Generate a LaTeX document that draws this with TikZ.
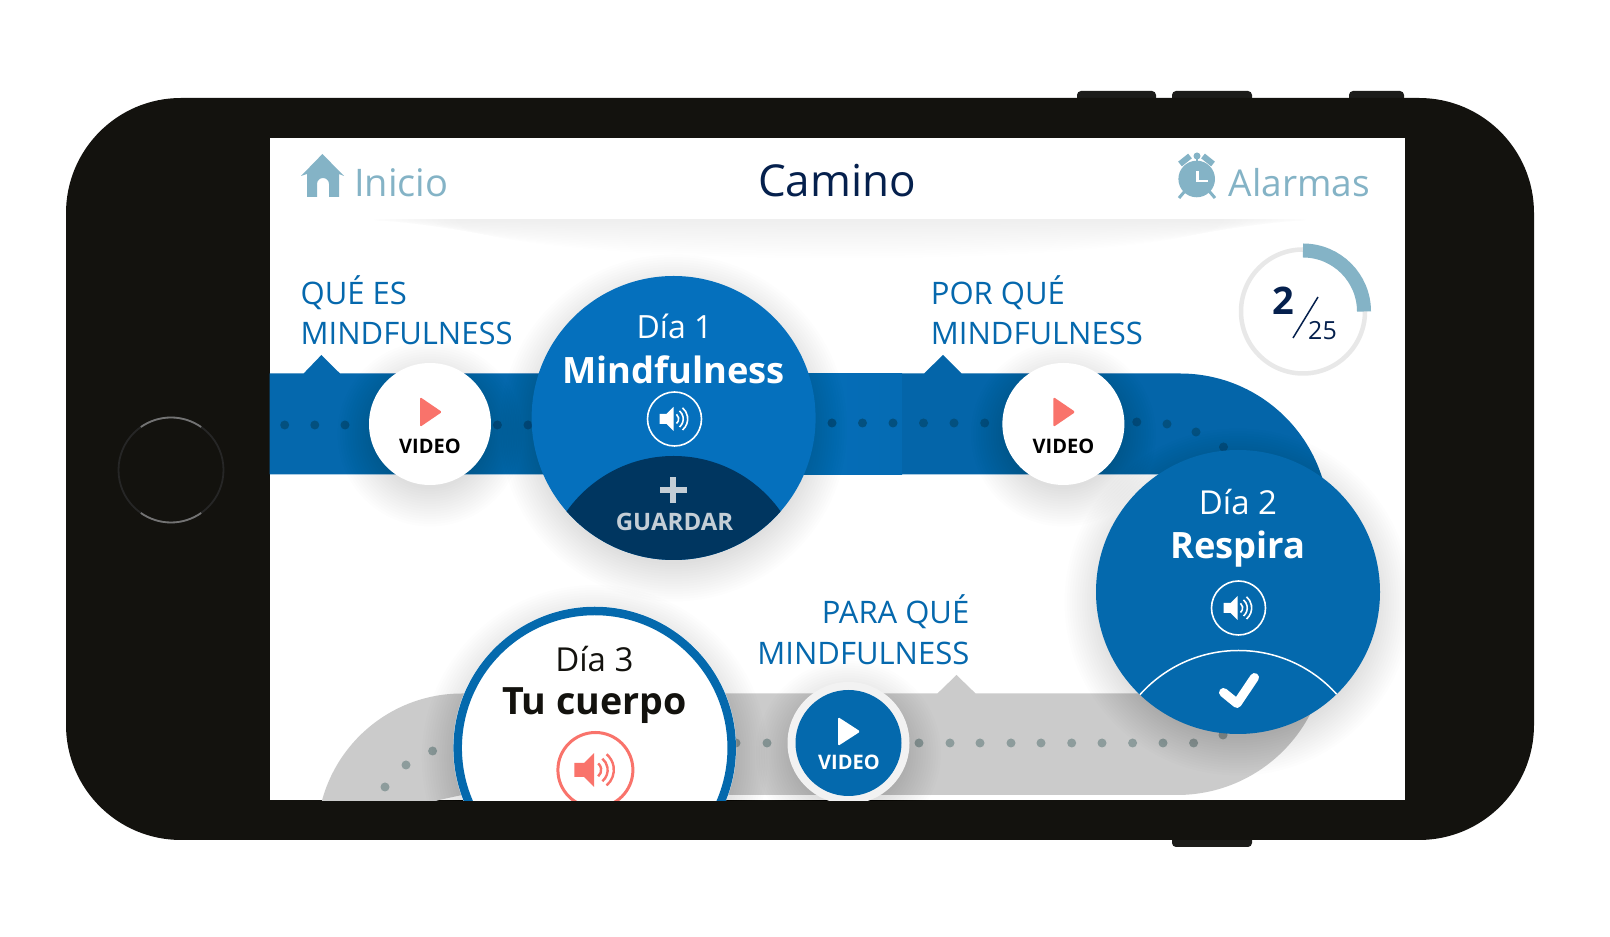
\documentclass[tikz,border=0pt]{standalone}
\usepackage{fontspec}
\setmainfont{Open Sans}
\usepackage{xcolor}
\definecolor{phoneblack}{HTML}{13120E}
\definecolor{sidegray}{HTML}{1C1C1A}
\definecolor{bandblue}{HTML}{0568AD}
\definecolor{daybluea}{HTML}{0570BD}
\definecolor{daybluen}{HTML}{0469AD}
\definecolor{darkcap}{HTML}{003660}
\definecolor{paleblue}{HTML}{84B3C6}
\definecolor{navytext}{HTML}{05204D}
\definecolor{salmon}{HTML}{F9736B}
\definecolor{bandgray}{HTML}{CBCBCB}
\definecolor{dotgray}{HTML}{8D9C9C}
\definecolor{dotblue}{HTML}{03507F}
\definecolor{capgray}{HTML}{C4CED6}
\newcommand{\softshadow}[3]{%
  \foreach \i in {1,...,16} {\fill[black, opacity=.009] (#1,#2-10) circle ({#3+34-2.5*\i});}}
\tikzset{
  txt/.style={inner sep=0pt, anchor=base},
  sz/.style={font=\fontsize{#1}{#1}\selectfont},
  szb/.style={font=\fontsize{#1}{#1}\selectfont\bfseries},
  caplabel/.style={txt, sz=31, text=bandblue, anchor=base west},
  speaker/.pic={
    \fill (-15,-5) -- (-8,-5) -- (-1,-12) -- (-1,12) -- (-8,5) -- (-15,5) -- cycle;
    \draw (2,-4.5) arc (-50:50:6);
    \draw (5,-8) arc (-50:50:10.5);
    \draw (8,-11) arc (-50:50:14.5);
  }
}
\begin{document}
\begin{tikzpicture}[x=1pt, y=1pt]
  \useasboundingbox (0,0) rectangle (1610,937);
  % Phone
  \foreach \xa/\xb in {1077/1156, 1172/1252, 1349/1404} {
    \fill[sidegray, rounded corners=4pt] (\xa,830) rectangle (\xb,846);
  }
  \fill[sidegray, rounded corners=4pt] (1172,90) rectangle (1252,110);
  \fill[phoneblack, rounded corners=115pt] (66,97) rectangle (1534,839);
  \draw[line width=1.8pt, color=black!85!white] (171,467) circle (52.5);
  \draw[line width=1.8pt, color=black!55!white] (171,467) ++(55:52.5) arc (55:125:52.5);
  \draw[line width=1.8pt, color=black!55!white] (171,467) ++(235:52.5) arc (235:305:52.5);
  % Screen
  \fill[white] (269.5,136.5) rectangle (1405,799);
  \begin{scope}
    \clip (269.5,136.5) rectangle (1405,799);
    % Header shadow
    \begin{scope}
      \clip (269.5,717) rectangle (1405,600);
      \foreach \i in {1,...,16} {\fill[black, opacity=.0028] (840,717) ellipse ({480-6*\i} and {2.4*\i});}
    \end{scope}
    % Blue band
    \fill[bandblue] (269.5,563.5) -- (303.6,563.5) -- (321.4,582) -- (340,563.5)
      -- (924,563.5) -- (943,582) -- (961.7,563.5) -- (1180,563.5) arc (90:0:149)
      -- (1180,462.5) -- (269.5,462.5) -- cycle;
    \shade[left color=daybluea!70!bandblue, right color=daybluea!40!bandblue] (800,462.5) rectangle (902,563.5);
    \fill[black, opacity=.02] (902,462.5) -- (902,563.5) -- (924,563.5) -- (943,582) -- (961.7,563.5)
      -- (1180,563.5) arc (90:0:149) -- (1180,462.5) -- cycle;
    % Gray band
    \fill[bandgray] (1177,142) arc (-90:0:150) -- (1200,243.5) -- (975.6,243.5) -- (956.5,262)
      -- (937.4,243.5) -- (462,243.5) arc (90:180:145) -- (439,137) -- (462,142) -- cycle;
    % Dots
    \foreach \x/\y in {284.7/512, 314.8/512, 345/512, 497.4/512, 528/512,
        832/514, 862.5/514, 893/514, 923.5/514, 954/514, 984.7/514,
        1136.8/515, 1167/513, 1196/505, 1223.5/490} {
      \fill[dotblue] (\x,\y) circle (4.5);
    }
    \foreach \x/\y in {736/194, 767/194, 919/194, 950/194, 980/194, 1011/194, 1041/194,
        1071.7/194, 1102/194, 1132.6/194, 1163/194, 1193.6/194, 1223/202,
        432.6/186, 406/172, 385/150} {
      \fill[dotgray] (\x,\y) circle (4.5);
    }
    % Video buttons
    \foreach \cx in {430, 1063.4} {
      \softshadow{\cx}{513}{61}
      \fill[white] (\cx,513) circle (61);
      \fill[salmon, rounded corners=1.5pt] (\cx-10,540) -- (\cx+12,525) -- (\cx-10,510) -- cycle;
    }
    % Day 1
    \softshadow{673.6}{519}{142}
    \fill[daybluea] (673.6,519) circle (142);
    \begin{scope}
      \clip (673.6,519) circle (142);
      \fill[darkcap] (673.6,350) circle (131);
    \end{scope}
    \draw[white, line width=1.6pt] (674.5,518) circle (27);
    \pic[white, line width=1.6pt] at (674.5,518) {speaker};
    \fill[capgray] (659.5,444) rectangle (686.5,450);
    \fill[capgray] (670,434) rectangle (676,460);
    % Day 2
    \softshadow{1238}{345}{142}
    \fill[daybluen] (1238,345) circle (142);
    \begin{scope}
      \clip (1238,345) circle (142);
      \draw[white, line width=1.5pt] (1238.5,154.5) circle (132);
    \end{scope}
    \draw[white, line width=1.6pt] (1238.5,329) circle (27);
    \pic[white, line width=1.6pt] at (1238.5,329) {speaker};
    \draw[white, line width=9pt, line cap=round, line join=round]
      (1223.5,244.5) -- (1237,233.5) -- (1254.5,259.5);
    % Day 3
    \softshadow{594.7}{189}{141.5}
    \fill[white] (594.7,189) circle (141.5);
    \draw[daybluen, line width=8.5pt] (594.7,189) circle (137);
    \draw[salmon, line width=3pt] (595.4,167) circle (37.5);
    \pic[salmon, line width=2.4pt, scale=1.4] at (595.4,167) {speaker};
    % Dark video button
    \softshadow{848.5}{194}{61}
    \fill[black!5!white] (848.5,194) circle (61);
    \fill[daybluen] (848.5,194) circle (53);
    \fill[white, rounded corners=1.5pt] (838,220) -- (860.4,205.5) -- (838,191) -- cycle;
  \end{scope}
  % Top bar icons
  \fill[paleblue] (322.4,783) -- (344,761) -- (339,763) -- (339,740) -- (329,740) -- (329,753)
    arc (0:180:6) -- (317,740) -- (307,740) -- (307,763) -- (301,761) -- cycle;
  \fill[paleblue] (1196.7,758) circle (18.3);
  \draw[white, line width=2.5pt] (1197.7,766) -- (1197.7,756) -- (1208,756);
  \draw[paleblue, line width=6pt] (1180,773) -- (1190,781);
  \draw[paleblue, line width=6pt] (1213,773) -- (1203,781);
  \fill[paleblue] (1197,781) circle (3.5);
  \draw[paleblue, line width=2.5pt] (1197,781) -- (1197,775);
  \draw[paleblue, line width=3pt] (1185,746) -- (1179,739);
  \draw[paleblue, line width=3pt] (1209,746) -- (1215,739);
  % Progress ring
  \draw[black!9!white, line width=4.5pt] (1303,625.5) circle (62);
  \draw[paleblue, line width=14pt] (1303,625.5) ++(90:61) arc (90:0:61);
  \draw[navytext, line width=1.5pt] (1318,640) -- (1293,599);
  % Labels
  \node[txt, sz=38, text=paleblue, anchor=base west] (inicio) at (354,740) {Inicio};
  \node[txt, sz=44, text=navytext] (camino) at (837,740) {Camino};
  \node[txt, sz=37, text=paleblue, anchor=base west] (alarmas) at (1228.7,740) {Alarmas};
  \node[txt, szb=38, text=navytext, anchor=base west] (progdone) at (1272,622) {2};
  \node[txt, sz=25, text=navytext, anchor=base west] (progall) at (1308,597) {25};
  \node[caplabel] (quees) at (300.5,632) {QUÉ ES};
  \node[caplabel] (quemind) at (300.5,592) {MINDFULNESS};
  \node[caplabel] (porque) at (930.7,632) {POR QUÉ};
  \node[caplabel] (pormind) at (930.7,592) {MINDFULNESS};
  \node[caplabel, anchor=base east] (paraque) at (969.5,313) {PARA QUÉ};
  \node[caplabel, anchor=base east] (paramind) at (969.5,272) {MINDFULNESS};
  \node[txt, szb=20, text=black] (videoa) at (430,483) {VIDEO};
  \node[txt, szb=20, text=black] (videob) at (1063.4,483) {VIDEO};
  \node[txt, szb=20, text=white] (videoc) at (849,167) {VIDEO};
  \node[txt, sz=32, text=white] (diaa) at (674.5,598) {Día 1};
  \node[txt, szb=36.3, text=white] (mindful) at (673.6,553) {Mindfulness};
  \node[txt, szb=24, text=capgray] (guardar) at (674.5,406) {GUARDAR};
  \node[txt, sz=33, text=white] (diab) at (1238,422) {Día 2};
  \node[txt, szb=36.3, text=white] (respira) at (1238,378) {Respira};
  \node[txt, sz=33, text=phoneblack] (diac) at (594.4,265) {Día 3};
  \node[txt, szb=37.6, text=phoneblack] (tucuerpo) at (594.4,222) {Tu cuerpo};
\end{tikzpicture}
\end{document}
